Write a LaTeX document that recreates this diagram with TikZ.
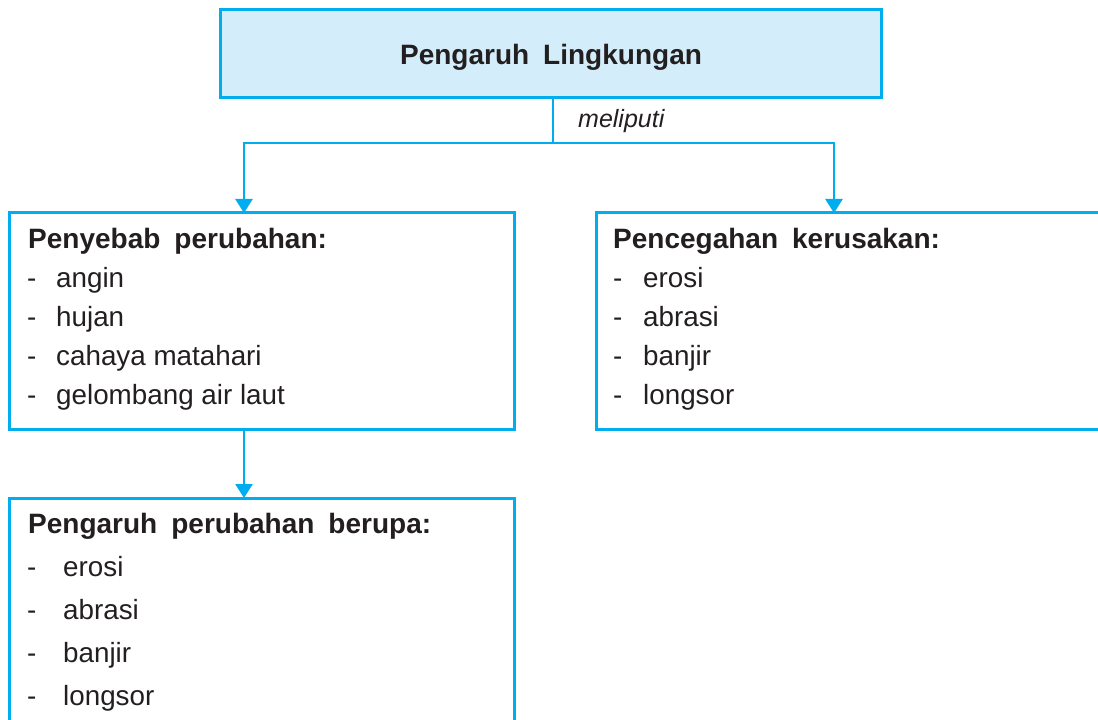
\documentclass[tikz,border=0pt]{standalone}
\usepackage{fontspec}
\setmainfont{Liberation Sans}
\newfontfamily\ttlfont[WordSpace=1.8]{Liberation Sans}
\usetikzlibrary{arrows.meta}
\definecolor{cy}{HTML}{00AEEF}
\definecolor{cyfill}{HTML}{D3EEFA}
\definecolor{ink}{HTML}{231F20}
\begin{document}
\begin{tikzpicture}[x=1bp,y=-1bp,
  boxst/.style={draw=cy, line width=3bp, inner sep=0pt, outer sep=0pt, rectangle},
  conn/.style={draw=cy, line width=2.6bp},
  arr/.style={conn, -{Triangle[width=17bp,length=14bp]}},
  ttl/.style={text=ink, inner sep=0pt, anchor=base west, font=\ttlfont\bfseries\fontsize{28bp}{33bp}\selectfont},
  itm/.style={text=ink, inner sep=0pt, anchor=base west, font=\fontsize{27.8bp}{33bp}\selectfont}]
\useasboundingbox (0,0) rectangle (1098,720);
\fill[white] (0,0) rectangle (1098,720);
\clip (0,0) rectangle (1098,720);
% boxes
\node[boxst, fill=cyfill, minimum width=660bp, minimum height=88bp] (top) at (551,54) {};
\node[boxst, minimum width=504bp, minimum height=216bp] (lbox) at (262,321) {};
\node[boxst, minimum width=520bp, minimum height=216bp] (rbox) at (856,321) {};
\node[boxst, minimum width=504bp, minimum height=250bp] (bbox) at (262,623) {};
% connectors
\coordinate (jn) at (553,143);
\coordinate (lin) at (244,213);
\coordinate (rin) at (834,213);
\draw[conn] (top.south -| jn) -- (jn);
\draw[arr] (jn) -| (lin);
\draw[arr] (jn) -| (rin);
\draw[arr] (lbox.south -| lin) -- (bbox.north -| lin);
\node[text=ink, inner sep=0pt, anchor=base west, font=\itshape\fontsize{25bp}{30bp}\selectfont] (mel) at (578,128) {meliputi};
% top title
\node[text=ink, inner sep=0pt, anchor=base, font=\ttlfont\bfseries\fontsize{28bp}{33bp}\selectfont] (ttop) at (551,65) {Pengaruh Lingkungan};
% left box
\node[ttl] (lt) at (28,248) {Penyebab perubahan:};
\node[itm] (ld1) at (27,287) {-};
\node[itm] (ld2) at (27,326) {-};
\node[itm] (ld3) at (27,365) {-};
\node[itm] (ld4) at (27,404) {-};
\node[itm] (l1) at (56,287) {angin};
\node[itm] (l2) at (56,326) {hujan};
\node[itm] (l3) at (56,365) {cahaya matahari};
\node[itm] (l4) at (56,404) {gelombang air laut};
% right box
\node[ttl] (rt) at (613,248) {Pencegahan kerusakan:};
\node[itm] (rd1) at (613,287) {-};
\node[itm] (rd2) at (613,326) {-};
\node[itm] (rd3) at (613,365) {-};
\node[itm] (rd4) at (613,404) {-};
\node[itm] (r1) at (643,287) {erosi};
\node[itm] (r2) at (643,326) {abrasi};
\node[itm] (r3) at (643,365) {banjir};
\node[itm] (r4) at (643,404) {longsor};
% bottom box
\node[ttl] (bt) at (28,533) {Pengaruh perubahan berupa:};
\node[itm] (bd1) at (27,576) {-};
\node[itm] (bd2) at (27,619) {-};
\node[itm] (bd3) at (27,662) {-};
\node[itm] (bd4) at (27,705) {-};
\node[itm] (b1) at (63,576) {erosi};
\node[itm] (b2) at (63,619) {abrasi};
\node[itm] (b3) at (63,662) {banjir};
\node[itm] (b4) at (63,705) {longsor};
\end{tikzpicture}
\end{document}
